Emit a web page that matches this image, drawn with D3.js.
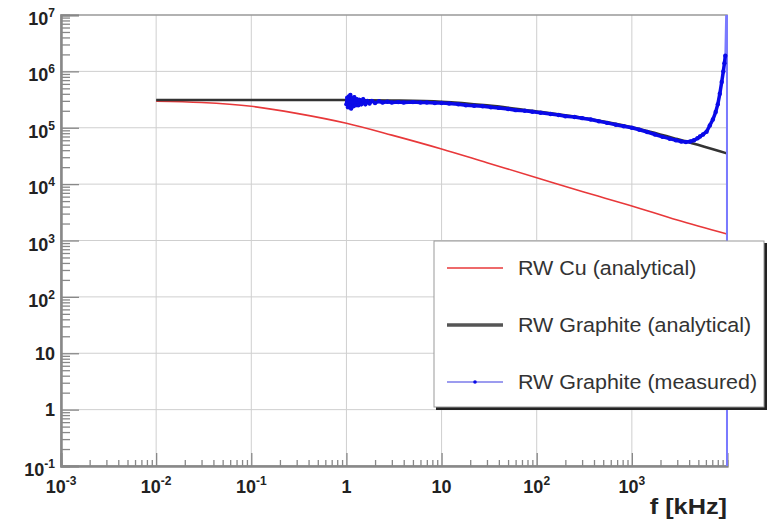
<!DOCTYPE html>
<html>
<head>
<meta charset="utf-8">
<script src="https://cdn.jsdelivr.net/npm/d3@7"></script>
<style>
  body { margin: 0; background: #fff; }
  svg { display: block; font-family: "Liberation Sans", Arial, sans-serif; }
</style>
</head>
<body>
<div id="plot-container"></div>
<script>
// RW Cu (analytical)
const cuFreq = [0.01, 0.03, 0.1, 0.3, 1, 3, 10, 30, 100, 300, 1000, 3000, 10000];
const cuImp = [2.95e5, 2.8e5, 2.4e5, 1.8e5, 1.2e5, 7.4e4, 4.2e4, 2.4e4, 1.3e4, 7.4e3, 4.1e3, 2.3e3, 1.3e3];

// RW Graphite (analytical)
const grFreq = [0.01, 0.1, 1, 3, 10, 30, 100, 300, 1000, 3000, 10000];
const grImp = [3.1e5, 3.1e5, 3.1e5, 3.05e5, 2.9e5, 2.5e5, 1.95e5, 1.5e5, 1.02e5, 6.3e4, 3.5e4];

// RW Graphite (measured)
const measFreq = [1.00, 1.02, 1.04, 1.06, 1.08, 1.10, 1.12, 1.15, 1.18, 1.21, 1.25, 1.29, 1.33, 1.38, 1.43,
    1.50, 1.58, 1.66, 1.75, 1.85, 2.0, 2.2, 2.4, 2.7, 3.0, 3.5, 4.0, 5.0, 6.0, 7.0, 8.5, 10, 12, 15, 18, 22,
    27, 33, 40, 50, 60, 75, 90, 110, 140, 170, 200, 250, 300, 370, 450, 550, 680, 820, 1000, 1200, 1450,
    1750, 2100, 2500, 2900, 3300, 3700, 4100, 4500, 4900, 5200, 5600, 6100, 6600, 7100, 7600, 8000,
    8400, 8800, 9150, 9400, 9600, 9990, 10000];
const measImp = [2.6e5, 3.4e5, 2.3e5, 3.6e5, 2.5e5, 3.8e5, 2.2e5, 3.3e5, 2.4e5, 3.5e5, 2.5e5, 3.2e5, 2.5e5, 3.1e5, 2.6e5,
    3.2e5, 2.6e5, 3.0e5, 2.7e5, 3.0e5, 2.75e5, 2.95e5, 2.8e5, 2.9e5, 2.8e5, 2.85e5, 2.8e5, 2.85e5, 2.8e5, 2.8e5, 2.75e5, 2.75e5, 2.7e5, 2.6e5, 2.5e5, 2.45e5,
    2.4e5, 2.3e5, 2.25e5, 2.15e5, 2.05e5, 2.0e5, 1.92e5, 1.85e5, 1.75e5, 1.68e5, 1.6e5, 1.55e5, 1.48e5, 1.4e5, 1.3e5, 1.22e5, 1.13e5, 1.06e5, 1.0e5, 9.2e4, 8.4e4,
    7.6e4, 6.9e4, 6.4e4, 6.0e4, 5.7e4, 5.6e4, 5.7e4, 6.0e4, 6.5e4, 7.0e4, 7.6e4, 8.5e4, 1.1e5, 1.4e5, 1.9e5, 2.6e5,
    4.0e5, 6.5e5, 1.0e6, 1.4e6, 1.9e6, 5e7, 1e-2];

const xTicks = [1e-3, 1e-2, 1e-1, 1, 10, 1e2, 1e3, 1e4];
const xTickLabels = [["10", "-3"], ["10", "-2"], ["10", "-1"], ["1", ""], ["10", ""], ["10", "2"], ["10", "3"], null];
const yTicks = [1e-1, 1, 10, 1e2, 1e3, 1e4, 1e5, 1e6, 1e7];
const yTickLabels = [["10", "-1"], ["1", ""], ["10", ""], ["10", "2"], ["10", "3"], ["10", "4"], ["10", "5"], ["10", "6"], ["10", "7"]];

const legendLabels = ["RW Cu (analytical)", "RW Graphite (analytical)", "RW Graphite (measured)"];

const W = 770, H = 520;
const frame = { left: 61, right: 727, top: 15, bottom: 466 };

const svg = d3.select("#plot-container")
    .append("svg")
    .attr("width", W)
    .attr("height", H);

const x = d3.scaleLog().domain([1e-3, 1e4]).range([frame.left, frame.right]);
const y = d3.scaleLog().domain([1e-1, 1e7]).range([frame.bottom, frame.top]);

// minor ticks 2..9 per decade
const minor = (lo, hi) => {
    const out = [];
    for (let e = lo; e < hi; e++) for (let k = 2; k <= 9; k++) out.push(k * Math.pow(10, e));
    return out;
};

// grid
svg.append("g").selectAll("line")
    .data(xTicks.slice(1, -1))
    .enter().append("line")
    .attr("x1", d => x(d)).attr("x2", d => x(d))
    .attr("y1", frame.top).attr("y2", frame.bottom)
    .attr("stroke", "#cfcfcf").attr("stroke-width", 1);
svg.append("g").selectAll("line")
    .data(yTicks.slice(1, -1))
    .enter().append("line")
    .attr("y1", d => y(d)).attr("y2", d => y(d))
    .attr("x1", frame.left).attr("x2", frame.right)
    .attr("stroke", "#cfcfcf").attr("stroke-width", 1);

// frame
svg.append("rect")
    .attr("x", frame.left).attr("y", frame.top)
    .attr("width", frame.right - frame.left).attr("height", frame.bottom - frame.top)
    .attr("fill", "none").attr("stroke", "#999").attr("stroke-width", 1.5);

// axes (ticks inside the frame)
const yMinor = svg.append("g")
    .attr("transform", `translate(${frame.left},0)`)
    .call(d3.axisLeft(y).tickValues(minor(-1, 7)).tickSize(-9).tickFormat(""));
const yMajor = svg.append("g")
    .attr("transform", `translate(${frame.left},0)`)
    .call(d3.axisLeft(y).tickValues(yTicks).tickSize(-18).tickFormat(""));
const xMinor = svg.append("g")
    .attr("transform", `translate(0,${frame.bottom})`)
    .call(d3.axisBottom(x).tickValues(minor(-3, 4)).tickSize(-6).tickFormat(""));
const xMajor = svg.append("g")
    .attr("transform", `translate(0,${frame.bottom})`)
    .call(d3.axisBottom(x).tickValues(xTicks).tickSize(-13).tickFormat(""));
[yMinor, yMajor, xMinor, xMajor].forEach(g => {
    g.selectAll("line").attr("stroke", "#888").attr("stroke-width", 1.3);
    g.select(".domain").attr("stroke", "#888").attr("stroke-width", 2);
});

// tick labels
const ylab = svg.append("g").attr("font-weight", "bold").attr("fill", "#222");
yTicks.forEach((t, i) => {
    const lab = yTickLabels[i];
    const txt = ylab.append("text")
        .attr("x", 55)
        .attr("y", y(t) + (lab[1] ? 10 : 6.5))
        .attr("text-anchor", "end")
        .attr("font-size", 18);
    txt.append("tspan").text(lab[0]);
    if (lab[1]) txt.append("tspan").attr("dy", -8).attr("font-size", 12).text(lab[1]);
});
const xlab = svg.append("g").attr("font-weight", "bold").attr("fill", "#222");
xTicks.forEach((t, i) => {
    const lab = xTickLabels[i];
    if (!lab) return;
    const txt = xlab.append("text")
        .attr("x", x(t))
        .attr("y", 493)
        .attr("text-anchor", "middle")
        .attr("font-size", 18);
    txt.append("tspan").text(lab[0]);
    if (lab[1]) txt.append("tspan").attr("dy", -8).attr("font-size", 12).text(lab[1]);
});

svg.append("text")
    .attr("transform", `translate(${frame.right},514) scale(1.15,1)`)
    .attr("text-anchor", "end")
    .attr("font-weight", "bold")
    .attr("font-size", 22)
    .attr("fill", "#222")
    .text("f [kHz]");

// curves
svg.append("clipPath").attr("id", "clip")
    .append("rect").attr("x", frame.left).attr("y", frame.top)
    .attr("width", frame.right - frame.left + 1).attr("height", frame.bottom - frame.top);
const plot = svg.append("g").attr("clip-path", "url(#clip)");

const line = d3.line()
    .x(d => x(d[0]))
    .y(d => y(d[1]))
    .curve(d3.curveMonotoneX);

const cu = cuFreq.map((f, i) => [f, cuImp[i]]);
const gr = grFreq.map((f, i) => [f, grImp[i]]);
const meas = measFreq.map((f, i) => [f, measImp[i]]);
const measIn = meas.filter(d => d[1] > 1e-1 && d[1] < 1e7);

plot.append("path").datum(cu)
    .attr("d", line).attr("fill", "none")
    .attr("stroke", "#e8383a").attr("stroke-width", 1.6);
plot.append("path").datum(gr)
    .attr("d", line).attr("fill", "none")
    .attr("stroke", "#333").attr("stroke-width", 2.5);

plot.append("path").datum(meas)
    .attr("d", d3.line().x(d => x(d[0])).y(d => y(d[1])))
    .attr("fill", "none")
    .attr("stroke", "#7a7aff").attr("stroke-width", 2);
plot.append("path").datum(measIn)
    .attr("d", d3.line().x(d => x(d[0])).y(d => y(d[1])))
    .attr("fill", "none")
    .attr("stroke", "#0a0ae8").attr("stroke-width", 3.5)
    .attr("stroke-linejoin", "round");
plot.selectAll(".pt")
    .data(measIn)
    .enter().append("circle")
    .attr("class", "pt")
    .attr("cx", d => x(d[0])).attr("cy", d => y(d[1]))
    .attr("r", 2.2)
    .attr("fill", "#0a0ae8");

// legend
const lg = svg.append("g");
lg.append("rect")
    .attr("x", 436).attr("y", 243).attr("width", 331).attr("height", 167)
    .attr("fill", "#222");
lg.append("rect")
    .attr("x", 434).attr("y", 241).attr("width", 330).attr("height", 166)
    .attr("fill", "#fff").attr("stroke", "#999").attr("stroke-width", 1);

const legendColors = ["#e8383a", "#555", "#3a3ae0"];
const legendWidths = [1.6, 3.5, 1.2];
legendLabels.forEach((lab, i) => {
    const ly = 268 + i * 57;
    lg.append("line")
        .attr("x1", 447).attr("x2", 503)
        .attr("y1", ly).attr("y2", ly)
        .attr("stroke", legendColors[i]).attr("stroke-width", legendWidths[i]);
    if (i === 2) {
        lg.append("circle").attr("cx", 475).attr("cy", ly).attr("r", 1.8).attr("fill", "#0a0ae8");
    }
    lg.append("text")
        .attr("transform", `translate(518,${ly + 6.5}) scale(1.1,1)`)
        .attr("font-size", 19.5)
        .attr("fill", "#333")
        .text(lab);
});
</script>
</body>
</html>
